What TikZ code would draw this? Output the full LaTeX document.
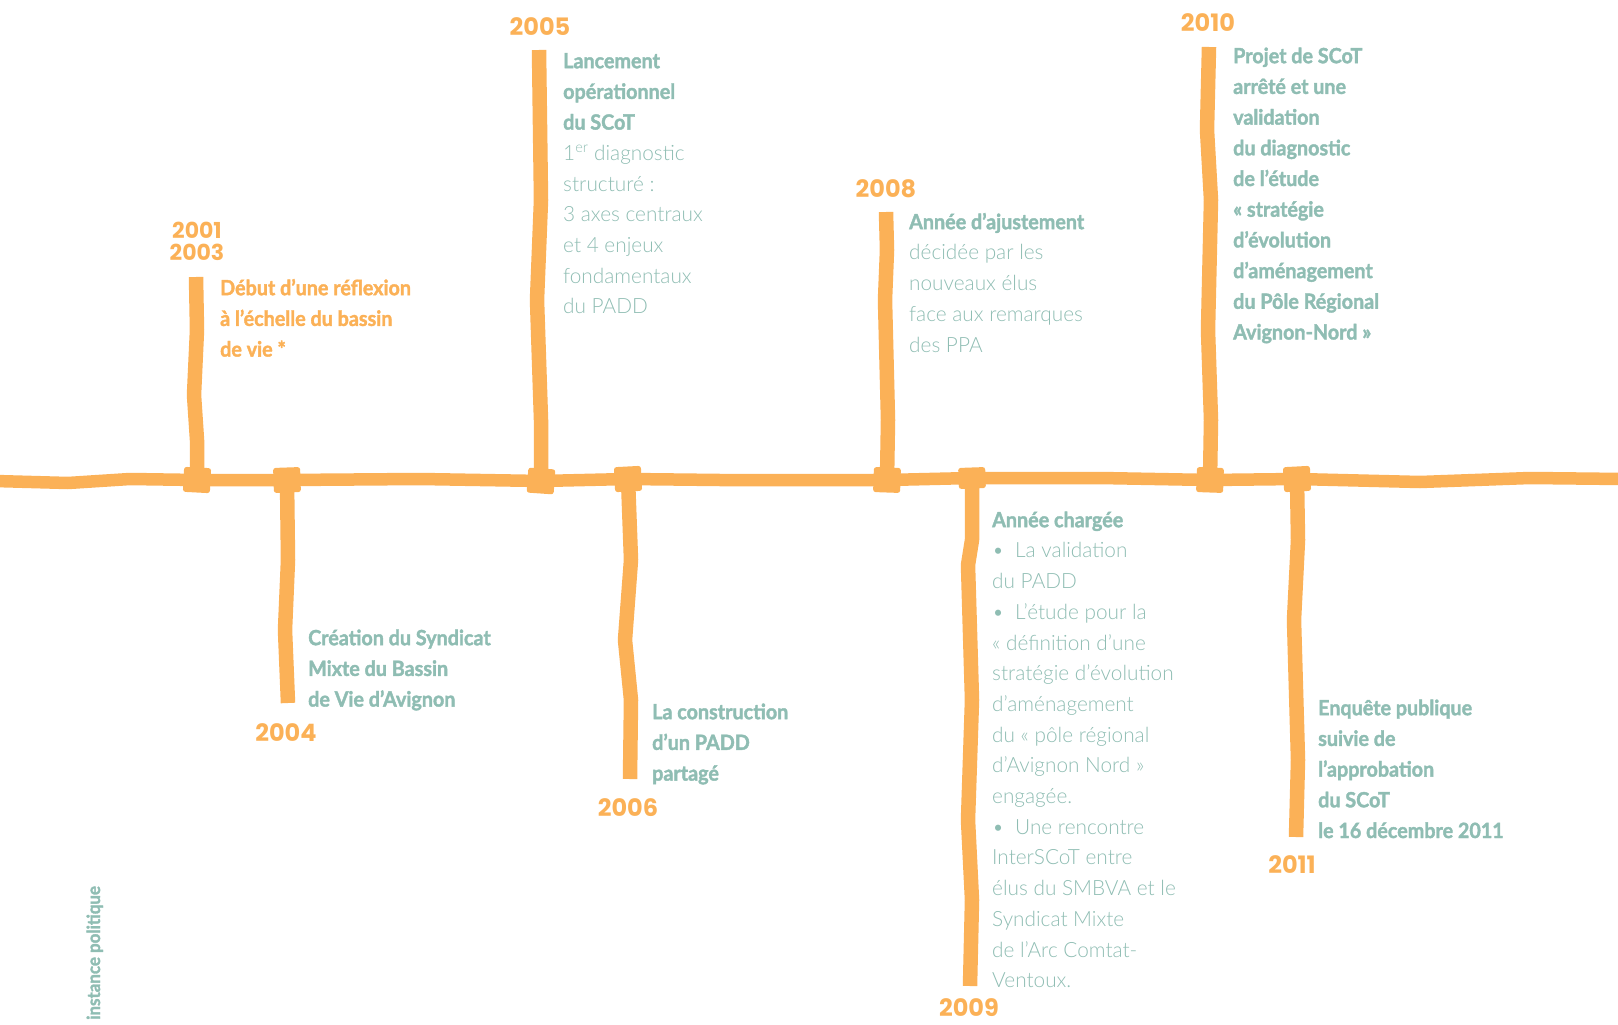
\documentclass[tikz,border=0pt]{standalone}
\usepackage{fontspec}
\setmainfont{Lato}
\newfontfamily\condbf[FakeStretch=0.94, FakeBold=1.8]{Lato Bold}
\newfontfamily\condlt[FakeStretch=0.99]{Lato Light}
\newfontfamily\yearfont{Poppins}
\newcommand\lt[1]{{\condlt #1}}
\newcommand\fs{\rule{0pt}{18pt}}
\newcommand\bul{\makebox[23pt][l]{•}}
\definecolor{tlorange}{HTML}{FBB157}
\definecolor{tlteal}{HTML}{8FBDB3}
\tikzset{
  mainline/.style={draw=tlorange, line width=12.5pt, line join=round},
  tick/.style={draw=tlorange, line width=14.5pt, line join=round},
  junction/.style={fill=tlorange, draw=none, minimum width=27pt, minimum height=25pt, inner sep=0pt, rounded corners=2.5pt},
  year/.style={text=tlorange, font=\yearfont\bfseries\fontsize{24}{24}\selectfont, inner sep=0pt, anchor=base},
  event/.style={text=tlteal, font=\condbf\fontsize{21}{30.7}\selectfont, align=left, inner sep=0pt, anchor=north west},
  eventor/.style={event, text=tlorange}
}
\begin{document}
\begin{tikzpicture}[x=1pt, y=-1pt]
\useasboundingbox (0,0) rectangle (1618,1025);
% junction coordinates
\coordinate (c01) at (197,480);
\coordinate (c04) at (287,480);
\coordinate (c05) at (541,481);
\coordinate (c06) at (628,479);
\coordinate (c08) at (887,480);
\coordinate (c09) at (972,478);
\coordinate (c10) at (1210,480);
\coordinate (c11) at (1297,479);
% tick ends
\coordinate (t01) at (196,277);
\coordinate (t04) at (288,703);
\coordinate (t05) at (539,50);
\coordinate (t06) at (630,779);
\coordinate (t08) at (886,212);
\coordinate (t09) at (970,986);
\coordinate (t10) at (1209,47);
\coordinate (t11) at (1296,837);
\coordinate (Lend) at (-5,481);
\coordinate (Rend) at (1623,479);
% main line
\draw[mainline] (Lend) -- (68,483) -- (130,479) -- (c01) -- (c04) -- (420,479) -- (c05) -- (c06)
  -- (720,480) -- (c08) -- (c09) -- (1100,478) -- (c10) -- (c11) -- (1420,482) -- (1530,478) -- (Rend);
% ticks
\draw[tick] (c01) -- (197,440) -- (194,395) -- (197,330) -- (t01);
\draw[tick] (c04) -- (288,560) -- (285,630) -- (t04);
\draw[tick] (c05) -- (541,420) -- (537,300) -- (541,200) -- (t05);
\draw[tick] (c06) -- (631,560) -- (625,640) -- (631,700) -- (t06);
\draw[tick] (c08) -- (888,420) -- (885,300) -- (887,250) -- (t08);
\draw[tick] (c09) -- (972,540) -- (968,565) -- (972,700) -- (968,820) -- (972,900) -- (t09);
\draw[tick] (c10) -- (1211,420) -- (1208,330) -- (1211,200) -- (1207,130) -- (t10);
\draw[tick] (c11) -- (1298,540) -- (1294,620) -- (1298,760) -- (t11);
% junction squares
\node[junction, rotate=-3] (j01) at (c01) {};
\node[junction, rotate=2] (j04) at (c04) {};
\node[junction, rotate=-4] (j05) at (c05) {};
\node[junction, rotate=3] (j06) at (c06) {};
\node[junction, rotate=-2] (j08) at (c08) {};
\node[junction, minimum height=21pt, rotate=2] (j09) at (c09) {};
\node[junction, rotate=-2] (j10) at (c10) {};
\node[junction, rotate=3] (j11) at (c11) {};
% years
\node[year, font=\yearfont\bfseries\fontsize{22}{22}\selectfont] (y01) at (197,238) {2001};
\node[year, font=\yearfont\bfseries\fontsize{22}{22}\selectfont] (y03) at (197,260) {2003};
\node[year] (y04) at (286,741) {2004};
\node[year] (y05) at (540,36) {2005};
\node[year] (y06) at (628,816) {2006};
\node[year] (y08) at (886,197) {2008};
\node[year] (y09) at (969,1016) {2009};
\node[year] (y10) at (1208,32) {2010};
\node[year] (y11) at (1292,873) {2011};
% texts
\node[eventor] (e01) at (220,277) {\fs Début d’une réflexion\\à l’échelle du bassin\\de vie *};
\node[event] (e04) at (308,627) {\fs Création du Syndicat\\Mixte du Bassin\\de Vie d’Avignon};
\node[event] (e05) at (563,50) {\fs Lancement\\opérationnel\\du SCoT\\\lt{1\textsuperscript{er} diagnostic}\\\lt{structuré :}\\\lt{3 axes centraux}\\\lt{et 4 enjeux}\\\lt{fondamentaux}\\\lt{du PADD}};
\node[event] (e06) at (652,701) {\fs La construction\\d’un PADD\\partagé};
\node[event] (e08) at (909,211) {\fs Année d’ajustement\\\lt{décidée par les}\\\lt{nouveaux élus}\\\lt{face aux remarques}\\\lt{des PPA}};
\node[event] (e09) at (992,509) {\fs Année chargée\\\lt{\bul La validation}\\\lt{du PADD}\\\lt{\bul L’étude pour la}\\\lt{«~définition d’une}\\\lt{stratégie d’évolution}\\\lt{d’aménagement}\\\lt{du «~pôle régional}\\\lt{d’Avignon Nord~»}\\\lt{engagée.}\\\lt{\bul Une rencontre}\\\lt{InterSCoT entre}\\\lt{élus du SMBVA et le}\\\lt{Syndicat Mixte}\\\lt{de l’Arc Comtat-}\\\lt{Ventoux.}};
\node[event] (e10) at (1233,45) {\fs Projet de SCoT\\arrêté et une\\validation\\du diagnostic\\de l’étude\\«~stratégie\\d’évolution\\d’aménagement\\du Pôle Régional\\Avignon-Nord~»};
\node[event] (e11) at (1318,697) {\fs Enquête publique\\suivie de\\l’approbation\\du SCoT\\le 16 décembre 2011};
% side label
\node[text=tlteal, font=\condbf\fontsize{18}{18}\selectfont, rotate=90, anchor=base west, inner sep=0pt] (side) at (100,1020) {instance politique};
\end{tikzpicture}
\end{document}
